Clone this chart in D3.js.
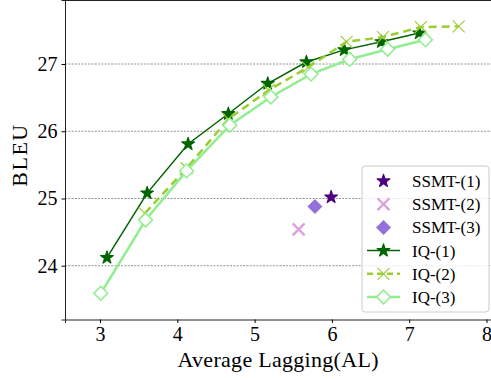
<!DOCTYPE html>
<html>
<head>
<meta charset="utf-8">
<script src="https://cdn.jsdelivr.net/npm/d3@7"></script>
<style>
  body { margin: 0; background: #fff; }
  text { font-family: "Liberation Serif", "DejaVu Serif", serif; fill: #000; }
</style>
</head>
<body>
<div id="chart"></div>
<script>
// data
const iq1X = [3.09, 3.61, 4.14, 4.66, 5.17, 5.67, 6.16, 6.64, 7.13];
const iq1Y = [24.12, 25.08, 25.81, 26.26, 26.71, 27.03, 27.21, 27.33, 27.46];
const iq2X = [3.58, 4.12, 4.66, 5.18, 5.69, 6.19, 6.66, 7.15, 7.64];
const iq2Y = [24.78, 25.45, 26.18, 26.61, 26.95, 27.33, 27.40, 27.55, 27.56];
const iq3X = [3.01, 3.59, 4.12, 4.68, 5.21, 5.73, 6.23, 6.72, 7.21];
const iq3Y = [23.59, 24.68, 25.41, 26.09, 26.51, 26.85, 27.07, 27.22, 27.36];
const ssmtNames = ["SSMT-(1)", "SSMT-(2)", "SSMT-(3)"];
const ssmtX = [5.99, 5.57, 5.78];
const ssmtY = [25.02, 24.54, 24.88];
const xTicks = [3, 4, 5, 6, 7, 8];
const yTicks = [24, 25, 26, 27];

const width = 491, height = 380;
const margin = {left: 65, right: -1, top: 0, bottom: 60.5};

const svg = d3.select("#chart").append("svg")
    .attr("width", width)
    .attr("height", height);

const x = d3.scaleLinear()
    .domain([2.547, 8.071])
    .range([margin.left, width - margin.right]);

const y = d3.scaleLinear()
    .domain([23.2, 27.952])
    .range([height - margin.bottom, margin.top]);

// grid lines
svg.append("g")
    .selectAll("line")
    .data(yTicks)
    .enter()
    .append("line")
    .attr("x1", margin.left)
    .attr("x2", width)
    .attr("y1", d => y(d))
    .attr("y2", d => y(d))
    .attr("stroke", "#777")
    .attr("stroke-width", 0.8)
    .attr("stroke-dasharray", "2,1.3");

// axes
let xAxis = g => g
    .attr("transform", `translate(0, ${height - margin.bottom})`)
    .call(d3.axisBottom(x).tickValues(xTicks).tickSize(3.5).tickPadding(4).tickFormat(d3.format("d")))
    .call(g => g.select(".domain").attr("stroke", "#222").attr("stroke-width", 1));

let yAxis = g => g
    .attr("transform", `translate(${margin.left}, 0)`)
    .call(d3.axisLeft(y).tickValues(yTicks).tickSize(3.5).tickPadding(4).tickFormat(d3.format("d")))
    .call(g => g.select(".domain").attr("stroke", "#222").attr("stroke-width", 1));

svg.append("g").call(xAxis)
    .selectAll("text").attr("font-size", 20).attr("font-family", "Liberation Serif");
svg.append("g").call(yAxis)
    .selectAll("text").attr("font-size", 20).attr("font-family", "Liberation Serif");

// top spine
svg.append("line")
    .attr("x1", margin.left).attr("x2", width)
    .attr("y1", 0.5).attr("y2", 0.5)
    .attr("stroke", "#222").attr("stroke-width", 1);

// axis titles
svg.append("text")
    .attr("x", (margin.left + width) / 2)
    .attr("y", 367)
    .attr("text-anchor", "middle")
    .attr("font-size", 22)
    .attr("textLength", 201)
    .text("Average Lagging(AL)");

svg.append("text")
    .attr("transform", `translate(26.5, ${(height - margin.bottom) / 2 - 4}) rotate(-90)`)
    .attr("text-anchor", "middle")
    .attr("font-size", 22)
    .attr("textLength", 62)
    .text("BLEU");

const star = d3.symbol().type(d3.symbolStar).size(50);
const diamond = d3.symbol().type(d3.symbolSquare).size(95);
const fdiamond = d3.symbol().type(d3.symbolSquare).size(112);
const cross = d3.symbol().type(d3.symbolX).size(95);

const plotG = svg.append("g");

// IQ series
const iqSeries = [
    {name: "IQ-(1)", xs: iq1X, ys: iq1Y, color: "#006400", lw: 1.5, dash: null, mark: "star"},
    {name: "IQ-(2)", xs: iq2X, ys: iq2Y, color: "#9acd32", lw: 2.5, dash: "8,5", mark: "x"},
    {name: "IQ-(3)", xs: iq3X, ys: iq3Y, color: "#90ee90", lw: 2.5, dash: null, mark: "diamond"}
];

function drawMarker(g, kind, color, cx, cy) {
    if (kind === "star") {
        g.append("path").attr("d", star()).attr("transform", `translate(${cx},${cy})`)
            .attr("fill", color).attr("stroke", color).attr("stroke-width", 1.2)
            .attr("stroke-linejoin", "round");
    } else if (kind === "x") {
        g.append("path").attr("d", cross()).attr("transform", `translate(${cx},${cy})`)
            .attr("fill", "none").attr("stroke", color).attr("stroke-width", 1.1);
    } else if (kind === "x2") {
        g.append("path").attr("d", cross()).attr("transform", `translate(${cx},${cy})`)
            .attr("fill", "none").attr("stroke", color).attr("stroke-width", 2.3);
    } else if (kind === "diamond") {
        g.append("path").attr("d", diamond()).attr("transform", `translate(${cx},${cy}) rotate(45)`)
            .attr("fill", "#fff").attr("stroke", color).attr("stroke-width", 1.5);
    } else if (kind === "fdiamond") {
        g.append("path").attr("d", fdiamond()).attr("transform", `translate(${cx},${cy}) rotate(45)`)
            .attr("fill", color);
    }
}

// SSMT points
const ssmtColors = ["#4b0082", "#dda0dd", "#9370db"];
const ssmtMarks = ["star", "x2", "fdiamond"];
ssmtX.forEach((v, i) => {
    drawMarker(plotG.append("g"), ssmtMarks[i], ssmtColors[i], x(v), y(ssmtY[i]));
});

iqSeries.forEach(s => {
    const pts = s.xs.map((v, i) => [x(v), y(s.ys[i])]);
    plotG.append("path")
        .attr("d", d3.line()(pts))
        .attr("fill", "none")
        .attr("stroke", s.color)
        .attr("stroke-width", s.lw)
        .attr("stroke-dasharray", s.dash);
    const g = plotG.append("g");
    pts.forEach(p => drawMarker(g, s.mark, s.color, p[0], p[1]));
});

// legend
const legendG = svg.append("g");
legendG.append("rect")
    .attr("x", 362).attr("y", 166)
    .attr("width", 127).attr("height", 146)
    .attr("rx", 3)
    .attr("fill", "#fff").attr("fill-opacity", 0.8)
    .attr("stroke", "#ccc").attr("stroke-width", 1);

const legendItems = ssmtNames.map((n, i) => ({name: n, color: ssmtColors[i], mark: ssmtMarks[i], line: false}))
    .concat(iqSeries.map(s => ({name: s.name, color: s.color, mark: s.mark, line: true, lw: s.lw, dash: s.dash})));

legendItems.forEach((it, i) => {
    const cy = 181 + i * 23.2;
    const g = legendG.append("g");
    if (it.line) {
        g.append("line")
            .attr("x1", 367).attr("x2", 400)
            .attr("y1", cy).attr("y2", cy)
            .attr("stroke", it.color).attr("stroke-width", it.lw)
            .attr("stroke-dasharray", it.dash ? "6,4" : null);
    }
    drawMarker(g, it.mark, it.color, 383.5, cy);
    g.append("text")
        .attr("x", 412).attr("y", cy)
        .attr("dy", "0.35em")
        .attr("font-size", 17)
        .text(it.name);
});
</script>
</body>
</html>
